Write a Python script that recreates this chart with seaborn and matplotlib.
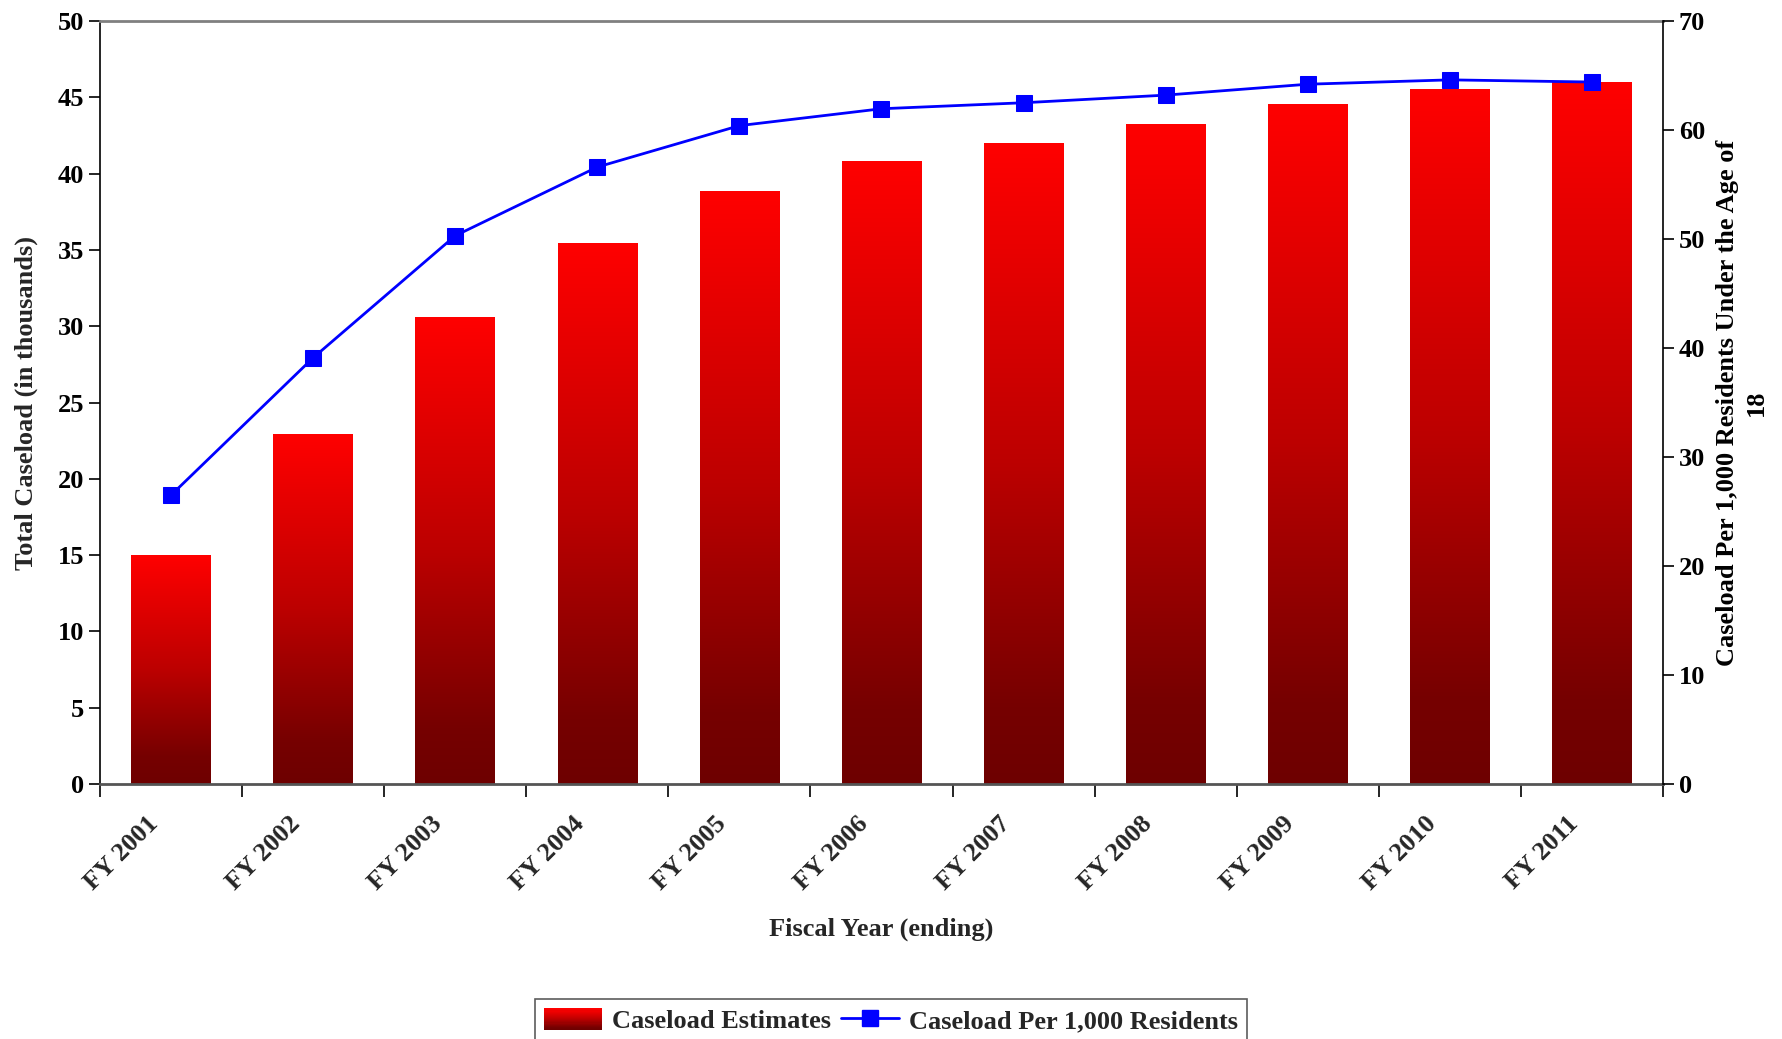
import matplotlib
matplotlib.use("Agg")
import matplotlib.pyplot as plt
import matplotlib.transforms as mtransforms
import numpy as np
import pandas as pd
import seaborn as sns
from matplotlib.colors import LinearSegmentedColormap
from matplotlib.legend_handler import HandlerBase
from matplotlib.patches import Rectangle
from matplotlib.lines import Line2D

# datos
anios = ["FY 2001", "FY 2002", "FY 2003", "FY 2004", "FY 2005", "FY 2006",
         "FY 2007", "FY 2008", "FY 2009", "FY 2010", "FY 2011"]
caseload = [15.0, 22.9, 30.6, 35.4, 38.85, 40.8, 42.0, 43.25, 44.55, 45.5, 45.95]
por_mil = [26.5, 39.1, 50.3, 56.6, 60.4, 61.95, 62.5, 63.2, 64.2, 64.6, 64.4]

sns.set_style("white")
plt.rcParams['font.family'] = ['Liberation Serif', 'DejaVu Serif']
plt.rcParams['font.weight'] = 'bold'
FS = 19

cmap_barra = LinearSegmentedColormap.from_list(
    "rojo", [(0.0, "#6e0000"), (0.12, "#760000"), (0.5, "#bc0000"), (1.0, "#ff0000")])

df = pd.DataFrame({"anio": anios, "caseload": caseload, "por_mil": por_mil})

fig = plt.figure(figsize=(17.82, 10.39), dpi=100)
ax = fig.add_axes([100 / 1782, 1 - 784 / 1039, 1563 / 1782, 763 / 1039])

sns.barplot(data=df, x="anio", y="caseload", color="#ff0000", width=0.56,
            saturation=1, ax=ax, zorder=2)

grad = np.linspace(1, 0, 256).reshape(-1, 1)
for p in ax.patches:
    x0, y0 = p.get_x(), p.get_y()
    w, h = p.get_width(), p.get_height()
    ax.imshow(grad, cmap=cmap_barra, extent=[x0, x0 + w, y0, y0 + h],
              aspect="auto", zorder=2, vmin=0, vmax=1)
    p.set_visible(False)

ax.set_xlim(-0.5, len(anios) - 0.5)
ax.set_ylim(0, 50)
ax.set_yticks(range(0, 51, 5))

# etiquetas del eje x como texto, desplazadas como en el original
ax.set_xticks([])
trans_etq = mtransforms.offset_copy(ax.get_xaxis_transform(), fig=fig,
                                    x=-0.25, y=-0.28, units="inches")
for i, etq in enumerate(anios):
    ax.text(i, 0, etq, transform=trans_etq, rotation=45, ha="right", va="top",
            rotation_mode="anchor", fontsize=FS, fontweight="bold")
ax.set_xticks(np.arange(-0.5, len(anios)), minor=True)
ax.tick_params(axis="x", which="minor", direction="out", length=9, width=1.2,
               color="black", bottom=True)
ax.tick_params(axis="y", direction="out", length=8, width=1.2, colors="black",
               labelsize=FS, left=True)
for t in ax.get_yticklabels():
    t.set_fontweight("bold")

ax.set_xlabel("Fiscal Year (ending)", fontsize=FS, fontweight="bold", labelpad=84)
ax.set_ylabel("Total Caseload (in thousands)", fontsize=FS, fontweight="bold", labelpad=14)

ax.spines["top"].set_color("#808080")
ax.spines["top"].set_linewidth(2)
ax.spines["bottom"].set_color("#555555")
ax.spines["bottom"].set_linewidth(2)
ax.spines["left"].set_color("black")
ax.spines["left"].set_linewidth(1.2)
ax.spines["right"].set_visible(False)

ax2 = ax.twinx()
sns.lineplot(x=np.arange(len(anios)), y=por_mil, ax=ax2, color="#0000ff",
             linewidth=2, marker="s", markersize=11, markeredgecolor="#0000ff")
ax2.set_ylim(0, 70)
ax2.set_yticks(range(0, 71, 10))
ax2.tick_params(axis="y", direction="out", length=8, width=1.2, colors="black",
                labelsize=FS, right=True)
for t in ax2.get_yticklabels():
    t.set_fontweight("bold")
ax2.set_ylabel("Caseload Per 1,000 Residents Under the Age of\n18", fontsize=FS,
               fontweight="bold", linespacing=1.3, labelpad=8, color="black")
for s in ["top", "bottom", "left"]:
    ax2.spines[s].set_visible(False)
ax2.spines["right"].set_color("black")
ax2.spines["right"].set_linewidth(1.2)
ax.set_xlim(-0.5, len(anios) - 0.5)


class HandlerGradiente(HandlerBase):
    def create_artists(self, legend, orig_handle, xdescent, ydescent, width, height,
                       fontsize, trans):
        n = 20
        artistas = []
        for i in range(n):
            c = cmap_barra(i / (n - 1))
            r = Rectangle((-xdescent, -ydescent + height * i / n), width, height / n + 0.3,
                          facecolor=c, edgecolor="none", transform=trans)
            artistas.append(r)
        return artistas


h_barra = Rectangle((0, 0), 1, 1, facecolor="#ff0000")
h_linea = Line2D([], [], color="#0000ff", linewidth=2, marker="s", markersize=11)
leg = fig.legend([h_barra, h_linea], ["Caseload Estimates", "Caseload Per 1,000 Residents"],
                 handler_map={Rectangle: HandlerGradiente()},
                 loc="upper center", bbox_to_anchor=(0.5, 1 - 999 / 1039), ncol=2,
                 frameon=True, fancybox=False, prop={"weight": "bold", "size": FS},
                 handlelength=2.2, handleheight=0.9, columnspacing=0.4, handletextpad=0.35,
                 borderpad=0.35, borderaxespad=0)
leg.get_frame().set_edgecolor("#333333")
leg.get_frame().set_linewidth(1.2)

fig.savefig("out.png", dpi=100)
